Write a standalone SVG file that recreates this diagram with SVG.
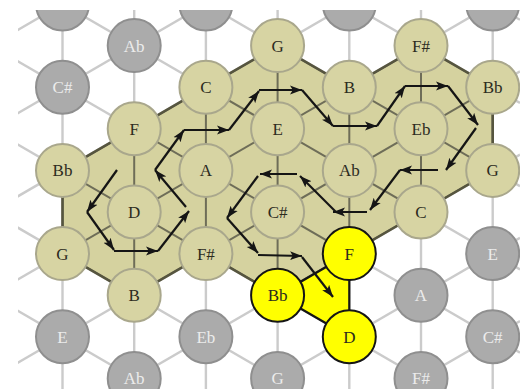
<svg xmlns="http://www.w3.org/2000/svg" width="520" height="389" viewBox="0 0 520 389">
<defs>
<style>
.grid line{stroke:#cbcbcb;stroke-width:2.4}
.inner line{stroke:#6e6d58;stroke-width:2}
.g circle{fill:#ababab;stroke:#8f8f8f;stroke-width:2}
.b circle{fill:#d7d4a3;stroke:#a9a78c;stroke-width:2}
.y circle{fill:#ffff00;stroke:#151515;stroke-width:2}
text{font-family:"Liberation Serif","Times New Roman",serif;font-size:17px;text-anchor:middle}
.g text{fill:#ececec}
.b text,.y text{fill:#2c2b1e}
.arrows line{stroke:#151515;stroke-width:2.2;marker-end:url(#ah)}
</style>
<clipPath id="frame"><rect x="18" y="10" width="502" height="379"/></clipPath>
<clipPath id="region"><polygon points="62.5,253.6 62.5,170.4 134.2,128.8 205.9,87.2 277.6,45.6 349.3,87.2 421,45.6 492.7,87.2 492.7,170.4 421,212 349.3,253.6 277.6,295.2 205.9,253.6 134.2,295.2"/></clipPath>
<marker id="ah" markerUnits="userSpaceOnUse" markerWidth="13" markerHeight="10" refX="12" refY="5" orient="auto"><path d="M0,0.6 L12,5 L0,9.4 L2.8,5 z" fill="#151515"/></marker>
</defs>
<rect width="520" height="389" fill="#ffffff"/>
<g clip-path="url(#frame)">
<g id="connectors">
<g class="grid">
<line x1="62.5" y1="0" x2="62.5" y2="389"/>
<line x1="134.2" y1="0" x2="134.2" y2="389"/>
<line x1="205.9" y1="0" x2="205.9" y2="389"/>
<line x1="277.6" y1="0" x2="277.6" y2="389"/>
<line x1="349.3" y1="0" x2="349.3" y2="389"/>
<line x1="421" y1="0" x2="421" y2="389"/>
<line x1="492.7" y1="0" x2="492.7" y2="389"/>
<line x1="0" y1="-281.9" x2="520" y2="19.8"/>
<line x1="0" y1="-198.7" x2="520" y2="103"/>
<line x1="0" y1="-115.5" x2="520" y2="186.2"/>
<line x1="0" y1="-32.3" x2="520" y2="269.4"/>
<line x1="0" y1="50.9" x2="520" y2="352.6"/>
<line x1="0" y1="134.1" x2="520" y2="435.8"/>
<line x1="0" y1="217.3" x2="520" y2="519"/>
<line x1="0" y1="300.5" x2="520" y2="602.2"/>
<line x1="0" y1="40.3" x2="520" y2="-261.4"/>
<line x1="0" y1="123.5" x2="520" y2="-178.2"/>
<line x1="0" y1="206.7" x2="520" y2="-95"/>
<line x1="0" y1="289.9" x2="520" y2="-11.8"/>
<line x1="0" y1="373.1" x2="520" y2="71.4"/>
<line x1="0" y1="456.3" x2="520" y2="154.6"/>
<line x1="0" y1="539.5" x2="520" y2="237.8"/>
<line x1="0" y1="622.7" x2="520" y2="321"/>
</g>
<polygon id="region-fill" points="62.5,253.6 62.5,170.4 134.2,128.8 205.9,87.2 277.6,45.6 349.3,87.2 421,45.6 492.7,87.2 492.7,170.4 421,212 349.3,253.6 277.6,295.2 205.9,253.6 134.2,295.2" fill="#d5d29f"/>
<g class="inner" clip-path="url(#region)">
<line x1="62.5" y1="0" x2="62.5" y2="389"/>
<line x1="134.2" y1="0" x2="134.2" y2="389"/>
<line x1="205.9" y1="0" x2="205.9" y2="389"/>
<line x1="277.6" y1="0" x2="277.6" y2="389"/>
<line x1="349.3" y1="0" x2="349.3" y2="389"/>
<line x1="421" y1="0" x2="421" y2="389"/>
<line x1="492.7" y1="0" x2="492.7" y2="389"/>
<line x1="0" y1="-281.9" x2="520" y2="19.8"/>
<line x1="0" y1="-198.7" x2="520" y2="103"/>
<line x1="0" y1="-115.5" x2="520" y2="186.2"/>
<line x1="0" y1="-32.3" x2="520" y2="269.4"/>
<line x1="0" y1="50.9" x2="520" y2="352.6"/>
<line x1="0" y1="134.1" x2="520" y2="435.8"/>
<line x1="0" y1="217.3" x2="520" y2="519"/>
<line x1="0" y1="300.5" x2="520" y2="602.2"/>
<line x1="0" y1="40.3" x2="520" y2="-261.4"/>
<line x1="0" y1="123.5" x2="520" y2="-178.2"/>
<line x1="0" y1="206.7" x2="520" y2="-95"/>
<line x1="0" y1="289.9" x2="520" y2="-11.8"/>
<line x1="0" y1="373.1" x2="520" y2="71.4"/>
<line x1="0" y1="456.3" x2="520" y2="154.6"/>
<line x1="0" y1="539.5" x2="520" y2="237.8"/>
<line x1="0" y1="622.7" x2="520" y2="321"/>
</g>
<polygon id="region-outline" points="62.5,253.6 62.5,170.4 134.2,128.8 205.9,87.2 277.6,45.6 349.3,87.2 421,45.6 492.7,87.2 492.7,170.4 421,212 349.3,253.6 277.6,295.2 205.9,253.6 134.2,295.2" fill="none" stroke="#56553f" stroke-width="2.6" stroke-linejoin="round"/>
<polygon id="yellow-triangle" points="349.3,253.6 349.3,336.8 277.6,295.2" fill="#ffff00" stroke="#151515" stroke-width="2.2" stroke-linejoin="round"/>
</g>

<g id="nodes">
<g id="top-0" class="g"><circle cx="62.5" cy="4" r="26.5"/></g>
<g id="top-2" class="g"><circle cx="205.9" cy="4" r="26.5"/></g>
<g id="top-4" class="g"><circle cx="349.3" cy="4" r="26.5"/></g>
<g id="top-6" class="g"><circle cx="492.7" cy="4" r="26.5"/></g>
<g id="n-Ab-1" class="g"><circle cx="134.2" cy="45.6" r="26.5"/><text x="134.2" y="51.6">Ab</text></g>
<g id="n-Cs-1" class="g"><circle cx="62.5" cy="87.2" r="26.5"/><text x="62.5" y="93.2">C#</text></g>
<g id="n-E-1" class="g"><circle cx="62.5" cy="336.8" r="26.5"/><text x="62.5" y="342.8">E</text></g>
<g id="n-Eb-1" class="g"><circle cx="205.9" cy="336.8" r="26.5"/><text x="205.9" y="342.8">Eb</text></g>
<g id="n-Ab-2" class="g"><circle cx="134.2" cy="378.4" r="26.5"/><text x="134.2" y="384.4">Ab</text></g>
<g id="n-G-1" class="g"><circle cx="277.6" cy="378.4" r="26.5"/><text x="277.6" y="384.4">G</text></g>
<g id="n-A-1" class="g"><circle cx="421" cy="295.2" r="26.5"/><text x="421" y="301.2">A</text></g>
<g id="n-Fs-1" class="g"><circle cx="421" cy="378.4" r="26.5"/><text x="421" y="384.4">F#</text></g>
<g id="n-E-2" class="g"><circle cx="492.7" cy="253.6" r="26.5"/><text x="492.7" y="259.6">E</text></g>
<g id="n-Cs-2" class="g"><circle cx="492.7" cy="336.8" r="26.5"/><text x="492.7" y="342.8">C#</text></g>

<g id="b-G-1" class="b"><circle cx="277.6" cy="45.6" r="26.5"/><text x="277.6" y="51.6">G</text></g>
<g id="b-Fs-1" class="b"><circle cx="421" cy="45.6" r="26.5"/><text x="421" y="51.6">F#</text></g>
<g id="b-C-1" class="b"><circle cx="205.9" cy="87.2" r="26.5"/><text x="205.9" y="93.2">C</text></g>
<g id="b-B-1" class="b"><circle cx="349.3" cy="87.2" r="26.5"/><text x="349.3" y="93.2">B</text></g>
<g id="b-Bb-1" class="b"><circle cx="492.7" cy="87.2" r="26.5"/><text x="492.7" y="93.2">Bb</text></g>
<g id="b-F-1" class="b"><circle cx="134.2" cy="128.8" r="26.5"/><text x="134.2" y="134.8">F</text></g>
<g id="b-E-1" class="b"><circle cx="277.6" cy="128.8" r="26.5"/><text x="277.6" y="134.8">E</text></g>
<g id="b-Eb-1" class="b"><circle cx="421" cy="128.8" r="26.5"/><text x="421" y="134.8">Eb</text></g>
<g id="b-Bb-2" class="b"><circle cx="62.5" cy="170.4" r="26.5"/><text x="62.5" y="176.4">Bb</text></g>
<g id="b-A-1" class="b"><circle cx="205.9" cy="170.4" r="26.5"/><text x="205.9" y="176.4">A</text></g>
<g id="b-Ab-1" class="b"><circle cx="349.3" cy="170.4" r="26.5"/><text x="349.3" y="176.4">Ab</text></g>
<g id="b-G-2" class="b"><circle cx="492.7" cy="170.4" r="26.5"/><text x="492.7" y="176.4">G</text></g>
<g id="b-D-1" class="b"><circle cx="134.2" cy="212" r="26.5"/><text x="134.2" y="218">D</text></g>
<g id="b-Cs-1" class="b"><circle cx="277.6" cy="212" r="26.5"/><text x="277.6" y="218">C#</text></g>
<g id="b-C-2" class="b"><circle cx="421" cy="212" r="26.5"/><text x="421" y="218">C</text></g>
<g id="b-G-3" class="b"><circle cx="62.5" cy="253.6" r="26.5"/><text x="62.5" y="259.6">G</text></g>
<g id="b-Fs-2" class="b"><circle cx="205.9" cy="253.6" r="26.5"/><text x="205.9" y="259.6">F#</text></g>
<g id="b-B-2" class="b"><circle cx="134.2" cy="295.2" r="26.5"/><text x="134.2" y="301.2">B</text></g>

<g id="y-F" class="y"><circle cx="349.3" cy="253.6" r="26.5"/><text x="349.3" y="259.6">F</text></g>
<g id="y-Bb" class="y"><circle cx="277.6" cy="295.2" r="26.5"/><text x="277.6" y="301.2">Bb</text></g>
<g id="y-D" class="y"><circle cx="349.3" cy="336.8" r="26.5"/><text x="349.3" y="342.8">D</text></g>
</g>

<g id="arrows" class="arrows">
<line x1="117" y1="170" x2="87" y2="212"/>
<line x1="87" y1="212" x2="114" y2="250"/>
<line x1="114" y1="251" x2="158" y2="251"/>
<line x1="158" y1="251" x2="189" y2="211"/>
<line x1="186" y1="207" x2="155" y2="170"/>
<line x1="155" y1="170" x2="184" y2="130"/>
<line x1="184" y1="130" x2="229" y2="130"/>
<line x1="229" y1="130" x2="259" y2="91"/>
<line x1="259" y1="90" x2="302" y2="90"/>
<line x1="302" y1="90" x2="333" y2="126"/>
<line x1="333" y1="126" x2="377" y2="126"/>
<line x1="377" y1="126" x2="405" y2="86"/>
<line x1="405" y1="86" x2="448" y2="86"/>
<line x1="448" y1="86" x2="478" y2="125"/>
<line x1="476" y1="128" x2="446" y2="170"/>
<line x1="438" y1="170" x2="400" y2="170"/>
<line x1="400" y1="170" x2="370" y2="210"/>
<line x1="367" y1="212" x2="333" y2="212"/>
<line x1="336" y1="212" x2="300" y2="176"/>
<line x1="297" y1="174" x2="260" y2="174"/>
<line x1="258" y1="176" x2="227" y2="218"/>
<line x1="227" y1="218" x2="258" y2="253"/>
<line x1="258" y1="255" x2="302" y2="256"/>
<line x1="302" y1="257" x2="333" y2="297"/>
</g>
</g>
</svg>
